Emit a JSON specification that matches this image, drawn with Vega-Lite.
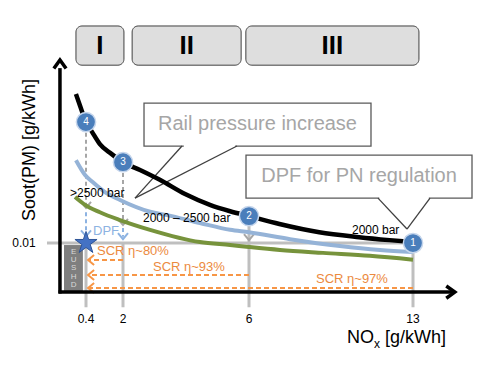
{
  "$schema": "https://vega.github.io/schema/vega-lite/v6.json",
  "width": 490,
  "height": 370,
  "autosize": {"type": "fit", "contains": "padding"},
  "padding": 0,
  "background": "white",
  "config": {
    "view": {"stroke": null},
    "axis": {"disable": true},
    "legend": {"disable": true},
    "text": {"font": "Liberation Sans"}
  },
  "encoding": {
    "x": {
      "field": "x",
      "type": "quantitative",
      "scale": {"domain": [-3.2, 0.4, 2, 6, 13, 16.5], "range": [0, 86, 123, 249, 413, 490], "nice": false, "zero": false},
      "axis": null
    },
    "y": {
      "field": "y",
      "type": "quantitative",
      "scale": {"domain": [-0.0159, 0.0596], "nice": false, "zero": false},
      "axis": null
    }
  },
  "layer": [
    {
      "data": {"values": [
        {"phase": "I", "x": -0.02, "x2": 2.03, "y": 0.0543, "y2": 0.0463},
        {"phase": "II", "x": 2.29, "x2": 5.75, "y": 0.0543, "y2": 0.0463},
        {"phase": "III", "x": 5.9, "x2": 13.27, "y": 0.0543, "y2": 0.0463}
      ]},
      "mark": {"type": "rect", "cornerRadius": 6, "stroke": "#404040", "strokeWidth": 1, "fill": "#dedede"},
      "encoding": {"x2": {"field": "x2"}, "y2": {"field": "y2"}}
    },
    {
      "data": {"values": [
        {"t": "I", "x": 1.0, "y": 0.0503},
        {"t": "II", "x": 4.02, "y": 0.0503},
        {"t": "III", "x": 9.56, "y": 0.0503}
      ]},
      "mark": {"type": "text", "fontSize": 26, "fontWeight": "bold", "color": "#000000", "baseline": "middle", "align": "center"},
      "encoding": {"text": {"field": "t"}}
    },
    {
      "data": {"values": [
        {"label": "Rail pressure increase", "x": 2.667, "x2": 11.207, "y": 0.03857, "y2": 0.0298},
        {"label": "DPF for PN regulation", "x": 5.905, "x2": 15.682, "y": 0.02796, "y2": 0.01918}
      ]},
      "mark": {"type": "rect", "fill": "white", "stroke": "#595959", "strokeWidth": 1.3},
      "encoding": {"x2": {"field": "x2"}, "y2": {"field": "y2"}}
    },
    {
      "data": {"values": [
        {"x": 3.93, "x2": 5.56, "y": 0.0298, "y2": 0.0298},
        {"x": 11.56, "x2": 13.72, "y": 0.01918, "y2": 0.01918}
      ]},
      "mark": {"type": "rule", "color": "white", "strokeWidth": 3},
      "encoding": {"x2": {"field": "x2"}, "y2": {"field": "y2"}}
    },
    {
      "data": {"values": [
        {"x": 3.873, "y": 0.0298, "x2": 2.381, "y2": 0.01918},
        {"x": 5.619, "y": 0.0298, "x2": 2.381, "y2": 0.01918},
        {"x": 11.506, "y": 0.01918, "x2": 12.743, "y2": 0.01286},
        {"x": 13.773, "y": 0.01918, "x2": 12.743, "y2": 0.01286}
      ]},
      "mark": {"type": "rule", "color": "#404040", "strokeWidth": 1.3},
      "encoding": {"x2": {"field": "x2"}, "y2": {"field": "y2"}}
    },
    {
      "data": {"values": [
        {"t": "Rail pressure increase", "x": 6.363, "y": 0.0342},
        {"t": "DPF for PN regulation", "x": 10.695, "y": 0.0236}
      ]},
      "mark": {"type": "text", "fontSize": 20, "color": "#a6a6a6", "baseline": "middle", "align": "center"},
      "encoding": {"text": {"field": "t"}}
    },
    {
      "data": {"values": [
        {"x": -0.52, "x2": 0.27, "y": 0.0096, "y2": 0.0002}
      ]},
      "mark": {"type": "rect", "fill": "#7f7f7f"},
      "encoding": {"x2": {"field": "x2"}, "y2": {"field": "y2"}}
    },
    {
      "data": {"values": [
        {"t": "E", "x": -0.12, "y": 0.0082},
        {"t": "U", "x": -0.12, "y": 0.0065},
        {"t": "S", "x": -0.12, "y": 0.0049},
        {"t": "H", "x": -0.12, "y": 0.0031},
        {"t": "D", "x": -0.12, "y": 0.0014}
      ]},
      "mark": {"type": "text", "fontSize": 8, "color": "#d9d9d9", "baseline": "middle", "align": "center"},
      "encoding": {"text": {"field": "t"}}
    },
    {
      "data": {"values": [
        {"x": -1.233, "x2": 13, "y": 0.01, "y2": 0.01},
        {"x": 0.4, "x2": 0.4, "y": 0.01, "y2": -0.0031},
        {"x": 2, "x2": 2, "y": 0.01, "y2": -0.0031},
        {"x": 6, "x2": 6, "y": 0.0155, "y2": -0.0031},
        {"x": 13, "x2": 13, "y": 0.01, "y2": -0.0031}
      ]},
      "mark": {"type": "rule", "color": "#bfbfbf", "strokeWidth": 3},
      "encoding": {"x2": {"field": "x2"}, "y2": {"field": "y2"}}
    },
    {
      "data": {"values": [
        {"x": 2, "x2": 0.55, "y": 0.00653, "y2": 0.00653},
        {"x": 6, "x2": 0.55, "y": 0.00347, "y2": 0.00347},
        {"x": 13, "x2": 0.55, "y": 0.00082, "y2": 0.00082}
      ]},
      "mark": {"type": "rule", "color": "#f79646", "strokeWidth": 2, "strokeDash": [5, 3]},
      "encoding": {"x2": {"field": "x2"}, "y2": {"field": "y2"}}
    },
    {
      "data": {"values": [
        {"x": 0.62, "y": 0.00653},
        {"x": 0.62, "y": 0.00347},
        {"x": 0.62, "y": 0.00082}
      ]},
      "mark": {"type": "point", "shape": "M0.6,-1L-0.6,0L0.6,1", "size": 100, "filled": false, "stroke": "#f79646", "strokeWidth": 2, "opacity": 1}
    },
    {
      "data": {"values": [
        {"t": "SCR η~80%", "x": 0.876, "y": 0.00837},
        {"t": "SCR η~93%", "x": 2.952, "y": 0.0051},
        {"t": "SCR η~97%", "x": 8.86, "y": 0.00265}
      ]},
      "mark": {"type": "text", "fontSize": 13, "color": "#ec8a3e", "baseline": "middle", "align": "left"},
      "encoding": {"text": {"field": "t"}}
    },
    {
      "data": {"values": [
        {"x": 0.4, "x2": 0.4, "y": 0.0325, "y2": 0.0178},
        {"x": 2, "x2": 2, "y": 0.0243, "y2": 0.0143}
      ]},
      "mark": {"type": "rule", "color": "#a6a6a6", "strokeWidth": 2, "strokeDash": [4, 3]},
      "encoding": {"x2": {"field": "x2"}, "y2": {"field": "y2"}}
    },
    {
      "data": {"values": [
        {"x": 0.4, "y": 0.0178},
        {"x": 2, "y": 0.0143},
        {"x": 6, "y": 0.0112}
      ]},
      "mark": {"type": "point", "shape": "M-1,-0.6L0,0.6L1,-0.6", "size": 100, "filled": false, "stroke": "#a6a6a6", "strokeWidth": 2, "opacity": 1}
    },
    {
      "data": {"values": [
        {"x": 0.4, "x2": 0.4, "y": 0.0163, "y2": 0.0121},
        {"x": 2, "x2": 2, "y": 0.0131, "y2": 0.0113}
      ]},
      "mark": {"type": "rule", "color": "#8db3e2", "strokeWidth": 2, "strokeDash": [4, 3]},
      "encoding": {"x2": {"field": "x2"}, "y2": {"field": "y2"}}
    },
    {
      "data": {"values": [
        {"x": 0.4, "y": 0.0120},
        {"x": 2, "y": 0.0114}
      ]},
      "mark": {"type": "point", "shape": "M-1,-0.6L0,0.6L1,-0.6", "size": 100, "filled": false, "stroke": "#8db3e2", "strokeWidth": 2, "opacity": 1}
    },
    {
      "data": {"values": [
        {"series": "2000 bar", "x": -0.02, "y": 0.0404},
        {"series": "2000 bar", "x": 0.15, "y": 0.0380},
        {"series": "2000 bar", "x": 0.4, "y": 0.0347},
        {"series": "2000 bar", "x": 0.66, "y": 0.0327},
        {"series": "2000 bar", "x": 1.0, "y": 0.0302},
        {"series": "2000 bar", "x": 1.5, "y": 0.0282},
        {"series": "2000 bar", "x": 2, "y": 0.0265},
        {"series": "2000 bar", "x": 2.54, "y": 0.0249},
        {"series": "2000 bar", "x": 3.17, "y": 0.0229},
        {"series": "2000 bar", "x": 3.97, "y": 0.0200},
        {"series": "2000 bar", "x": 4.76, "y": 0.0178},
        {"series": "2000 bar", "x": 5.4, "y": 0.0165},
        {"series": "2000 bar", "x": 6, "y": 0.0155},
        {"series": "2000 bar", "x": 7.3, "y": 0.0139},
        {"series": "2000 bar", "x": 9.0, "y": 0.0122},
        {"series": "2000 bar", "x": 10.7, "y": 0.0112},
        {"series": "2000 bar", "x": 12.0, "y": 0.0106},
        {"series": "2000 bar", "x": 13, "y": 0.0102}
      ]},
      "mark": {"type": "line", "interpolate": "monotone", "strokeWidth": 4.5, "color": "#000000"}
    },
    {
      "data": {"values": [
        {"series": "2000–2500 bar", "x": -0.02, "y": 0.0269},
        {"series": "2000–2500 bar", "x": 0.36, "y": 0.0239},
        {"series": "2000–2500 bar", "x": 0.70, "y": 0.0224},
        {"series": "2000–2500 bar", "x": 1.22, "y": 0.0204},
        {"series": "2000–2500 bar", "x": 1.87, "y": 0.0188},
        {"series": "2000–2500 bar", "x": 2.86, "y": 0.0164},
        {"series": "2000–2500 bar", "x": 3.40, "y": 0.0157},
        {"series": "2000–2500 bar", "x": 4.44, "y": 0.0141},
        {"series": "2000–2500 bar", "x": 5.40, "y": 0.0127},
        {"series": "2000–2500 bar", "x": 6, "y": 0.0122},
        {"series": "2000–2500 bar", "x": 7.75, "y": 0.0108},
        {"series": "2000–2500 bar", "x": 9.88, "y": 0.0094},
        {"series": "2000–2500 bar", "x": 11.59, "y": 0.0086},
        {"series": "2000–2500 bar", "x": 13, "y": 0.0082}
      ]},
      "mark": {"type": "line", "interpolate": "monotone", "strokeWidth": 4, "color": "#95b3d7"}
    },
    {
      "data": {"values": [
        {"series": ">2500 bar", "x": -0.06, "y": 0.0194},
        {"series": ">2500 bar", "x": 0.36, "y": 0.0178},
        {"series": ">2500 bar", "x": 1.0, "y": 0.0163},
        {"series": ">2500 bar", "x": 1.87, "y": 0.0147},
        {"series": ">2500 bar", "x": 2.86, "y": 0.0127},
        {"series": ">2500 bar", "x": 4.44, "y": 0.0102},
        {"series": ">2500 bar", "x": 5.4, "y": 0.0096},
        {"series": ">2500 bar", "x": 6.0, "y": 0.0092},
        {"series": ">2500 bar", "x": 7.32, "y": 0.0086},
        {"series": ">2500 bar", "x": 9.16, "y": 0.0080},
        {"series": ">2500 bar", "x": 11.16, "y": 0.0074},
        {"series": ">2500 bar", "x": 13, "y": 0.0066}
      ]},
      "mark": {"type": "line", "interpolate": "monotone", "strokeWidth": 4, "color": "#77933c"}
    },
    {
      "data": {"values": [
        {"t": ">2500 bar", "x": -0.27, "y": 0.0202},
        {"t": "2000 – 2500 bar", "x": 2.635, "y": 0.0151},
        {"t": "2000 bar", "x": 10.396, "y": 0.01265}
      ]},
      "mark": {"type": "text", "fontSize": 12, "color": "#000000", "baseline": "middle", "align": "left"},
      "encoding": {"text": {"field": "t"}}
    },
    {
      "data": {"values": [
        {"t": "DPF", "x": 0.703, "y": 0.01245}
      ]},
      "mark": {"type": "text", "fontSize": 13, "color": "#8db3e2", "baseline": "middle", "align": "left"},
      "encoding": {"text": {"field": "t"}}
    },
    {
      "data": {"values": [
        {"t": "0.4", "x": 0.4, "y": -0.0055},
        {"t": "2", "x": 2, "y": -0.0055},
        {"t": "6", "x": 6, "y": -0.0055},
        {"t": "13", "x": 13, "y": -0.0055},
        {"t": "0.01", "x": -2.195, "y": 0.0100}
      ]},
      "mark": {"type": "text", "fontSize": 12, "color": "#000000", "baseline": "middle", "align": "center"},
      "encoding": {"text": {"field": "t"}}
    },
    {
      "data": {"values": [
        {"t": "NO", "x": 10.18, "y": -0.0094},
        {"t": "[g/kWh]", "x": 11.80, "y": -0.0094}
      ]},
      "mark": {"type": "text", "fontSize": 18, "color": "#000000", "baseline": "middle", "align": "left"},
      "encoding": {"text": {"field": "t"}}
    },
    {
      "data": {"values": [
        {"t": "x", "x": 11.335, "y": -0.0106}
      ]},
      "mark": {"type": "text", "fontSize": 12, "color": "#000000", "baseline": "middle", "align": "left"},
      "encoding": {"text": {"field": "t"}}
    },
    {
      "data": {"values": [
        {"t": "Soot(PM) [g/kWh]", "x": -1.944, "y": 0.029}
      ]},
      "mark": {"type": "text", "fontSize": 18, "color": "#000000", "baseline": "middle", "align": "center", "angle": 270},
      "encoding": {"text": {"field": "t"}}
    },
    {
      "data": {"values": [
        {"x": -0.69, "x2": -0.69, "y": -0.0003, "y2": 0.0457},
        {"x": -0.75, "x2": 14.8, "y": 0, "y2": 0}
      ]},
      "mark": {"type": "rule", "color": "#000000", "strokeWidth": 3.5},
      "encoding": {"x2": {"field": "x2"}, "y2": {"field": "y2"}}
    },
    {
      "data": {"values": [
        {"dir": "up", "x": -0.69, "y": 0.0465}
      ]},
      "mark": {"type": "point", "shape": "M-1,0.7L0,-0.7L1,0.7", "size": 150, "filled": false, "stroke": "#000000", "strokeWidth": 3.5, "opacity": 1}
    },
    {
      "data": {"values": [
        {"dir": "right", "x": 14.707, "y": 0}
      ]},
      "mark": {"type": "point", "shape": "M-0.7,-1L0.7,0L-0.7,1", "size": 150, "filled": false, "stroke": "#000000", "strokeWidth": 3.5, "opacity": 1}
    },
    {
      "data": {"values": [
        {"n": "4", "x": 0.4, "y": 0.0347},
        {"n": "3", "x": 2, "y": 0.0265},
        {"n": "2", "x": 6, "y": 0.0155},
        {"n": "1", "x": 13, "y": 0.0100}
      ]},
      "mark": {"type": "circle", "size": 370, "color": "#4a7ebb", "stroke": "#c6d6ec", "strokeWidth": 1.5, "opacity": 1}
    },
    {
      "data": {"values": [
        {"n": "4", "x": 0.4, "y": 0.0347},
        {"n": "3", "x": 2, "y": 0.0265},
        {"n": "2", "x": 6, "y": 0.0155},
        {"n": "1", "x": 13, "y": 0.0100}
      ]},
      "mark": {"type": "text", "fontSize": 10, "color": "white", "baseline": "middle", "align": "center"},
      "encoding": {"text": {"field": "n"}}
    },
    {
      "data": {"values": [
        {"label": "EU limit", "x": 0.4, "y": 0.0100}
      ]},
      "mark": {
        "type": "point",
        "shape": "M0,-1L0.225,-0.309L0.951,-0.309L0.363,0.118L0.588,0.809L0,0.382L-0.588,0.809L-0.363,0.118L-0.951,-0.309L-0.225,-0.309Z",
        "size": 540,
        "filled": true,
        "fill": "#4472c4",
        "stroke": "#2f5597",
        "strokeWidth": 1,
        "opacity": 1
      }
    }
  ]
}
